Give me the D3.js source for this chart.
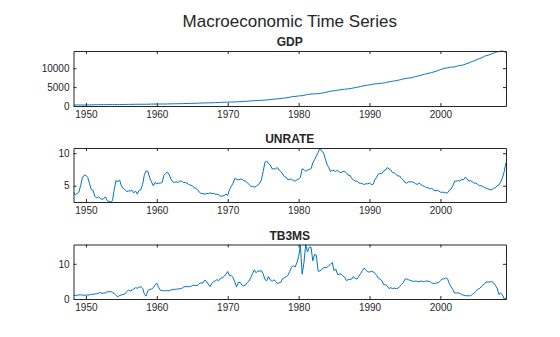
<!DOCTYPE html>
<html><head><meta charset="utf-8">
<script src="https://cdn.jsdelivr.net/npm/d3@7/dist/d3.min.js"></script>
<style>
html,body{margin:0;padding:0;background:#fff;}
svg{display:block;}
text{font-family:"Liberation Sans",Arial,Helvetica,sans-serif;}
</style></head>
<body>
<svg id="chart" width="560" height="337"></svg>
<script>
// Quarterly observations, 1948 Q1 .. 2009 Q1 (quarter-end dates)
const startYear = 1948;
const xTicks = [1950, 1960, 1970, 1980, 1990, 2000];

const gdp = [
261,267,274,275, 270,266,268,266, 276,285,304,314, 330,338,345,349,
353,354,360,373, 379,382,381,376, 377,378,382,390, 402,410,418,425,
428,434,440,448, 458,460,467,463, 456,460,473,487, 498,512,512,517,
533,530,533,527, 532,543,555,570, 583,592,599,603, 613,622,636,647,
663,672,685,691, 710,722,740,763, 787,796,811,826, 833,840,858,873,
898,921,937,952, 978,996,1013,1020, 1030,1044,1063,1066, 1113,1132,1150,1166,
1206,1234,1258,1297, 1340,1371,1394,1433, 1452,1480,1507,1538, 1556,1588,1643,1688,
1780,1810,1840,1875, 1955,2010,2055,2105, 2150,2275,2330,2420, 2480,2530,2600,2645,
2720,2710,2800,2930, 3050,3100,3190,3175, 3190,3230,3270,3330, 3380,3480,3580,3700,
3810,3910,3970,4030, 4110,4180,4260,4320, 4390,4430,4490,4530, 4610,4690,4780,4870,
4950,5050,5150,5250, 5360,5450,5520,5590, 5680,5790,5840,5890, 5910,5970,6030,6060,
6190,6300,6380,6490, 6550,6620,6700,6800, 6910,7030,7140,7260, 7320,7380,7450,7510,
7650,7790,7890,8020, 8130,8280,8400,8510, 8630,8730,8840,8980, 9100,9250,9410,9650,
9750,9940,10010,10100, 10190,10280,10320,10350, 10500,10600,10700,10770, 10900,11050,11250,11370,
11580,11780,11950,12140, 12380,12520,12730,12900, 13180,13350,13430,13620, 13800,13990,14170,14330,
14370,14500,14550,14350, 14180
];

const unrate = [
4.0,3.6,3.8,4.0, 5.0,6.2,6.6,6.6, 6.3,5.4,4.4,4.3, 3.4,3.1,3.3,3.1,
2.9,3.0,3.3,2.7, 2.6,2.5,2.7,4.5, 5.8,5.6,5.9,5.0, 4.6,4.4,4.1,4.2,
4.2,4.3,3.9,4.2, 3.7,4.3,4.4,5.2, 6.7,7.3,7.2,6.2, 5.6,5.0,5.5,5.3,
5.4,5.4,5.5,6.6, 6.9,7.1,6.7,6.0, 5.6,5.5,5.6,5.5, 5.7,5.7,5.5,5.5,
5.4,5.2,5.1,5.0, 4.7,4.6,4.4,4.0, 3.8,3.8,3.7,3.8, 3.8,3.9,3.8,3.8,
3.7,3.7,3.6,3.4, 3.4,3.5,3.7,3.5, 4.4,4.9,5.4,6.1, 6.0,5.9,6.0,6.0,
5.8,5.7,5.5,5.2, 4.9,4.9,4.8,4.9, 5.1,5.4,5.9,7.2, 8.6,8.8,8.4,8.2,
7.6,7.6,7.6,7.8, 7.4,7.2,6.8,6.4, 6.3,5.9,6.0,6.0, 5.8,5.7,5.9,6.0,
6.3,7.6,7.5,7.2, 7.4,7.5,7.6,8.5, 9.0,9.6,10.1,10.8, 10.3,10.1,9.2,8.3,
7.8,7.2,7.4,7.3, 7.2,7.4,7.1,7.0, 7.2,7.2,7.0,6.6, 6.6,6.1,5.9,5.7,
5.7,5.4,5.4,5.3, 5.2,5.3,5.3,5.4, 5.2,5.2,5.9,6.3, 6.8,6.9,6.9,7.3,
7.4,7.8,7.6,7.4, 7.0,7.0,6.7,6.5, 6.5,6.1,5.9,5.5, 5.4,5.6,5.6,5.6,
5.5,5.3,5.2,5.4, 5.2,5.0,4.9,4.7, 4.7,4.5,4.6,4.4, 4.2,4.3,4.2,4.0,
4.0,4.0,3.9,3.9, 4.3,4.5,5.0,5.7, 5.7,5.8,5.7,6.0, 5.9,6.3,6.1,5.7,
5.8,5.6,5.4,5.4, 5.2,5.0,5.0,4.9, 4.7,4.6,4.5,4.4, 4.4,4.6,4.7,5.0,
5.1,5.6,6.2,7.2, 8.6
];

const tb3ms = [
1.00,1.00,1.09,1.16, 1.16,1.16,1.06,1.10, 1.12,1.16,1.30,1.36, 1.42,1.48,1.64,1.86,
1.59,1.70,1.71,2.09, 2.01,2.17,1.79,1.60, 1.03,0.64,1.01,1.14, 1.28,1.40,2.09,2.54,
2.25,2.49,2.84,3.21, 3.08,3.29,3.53,3.04, 1.35,0.83,2.44,2.77, 2.80,3.20,4.04,4.49,
3.31,2.46,2.48,2.27, 2.42,2.33,2.33,2.58, 2.72,2.73,2.78,2.86, 2.90,2.99,3.38,3.52,
3.54,3.48,3.53,3.84, 3.93,3.80,3.91,4.38, 4.60,4.54,5.36,5.01, 4.26,3.53,4.42,4.96,
5.14,5.52,5.22,5.92, 6.02,6.44,7.08,7.82, 6.63,6.68,6.12,4.87, 3.38,4.75,4.69,4.01,
3.72,3.91,4.66,5.07, 6.09,7.19,8.29,7.45, 7.96,7.90,8.06,7.18, 5.54,5.19,6.38,5.44,
5.00,5.41,5.08,4.35, 4.60,4.75,5.81,6.07, 6.29,6.73,7.85,9.08, 9.46,9.06,10.26,12.04,
15.20,7.07,10.27,15.49, 13.36,14.73,14.70,10.85, 12.68,12.47,7.92,7.94, 8.35,8.79,9.00,8.96,
9.52,9.87,10.37,8.06, 8.52,6.95,7.10,7.07, 6.56,6.21,5.21,5.53, 5.59,5.69,6.40,5.77,
5.70,6.46,7.24,8.07, 8.82,8.15,7.75,7.64, 7.90,7.73,7.36,6.74, 5.91,5.57,5.22,4.07,
4.04,3.66,2.97,3.22, 2.95,3.10,2.95,3.06, 3.48,4.14,4.62,5.60, 5.73,5.47,5.28,5.14,
4.96,5.09,5.01,4.91, 5.14,4.93,4.95,5.16, 5.03,4.99,4.61,4.39, 4.44,4.57,4.68,5.20,
5.69,5.69,6.00,5.77, 4.42,3.49,2.64,1.69, 1.73,1.70,1.63,1.21, 1.13,0.92,0.94,0.90,
0.94,1.27,1.65,2.19, 2.74,2.97,3.42,3.89, 4.51,4.80,4.81,4.85, 4.94,4.61,3.89,3.07,
1.26,1.73,1.13,0.03, 0.21
];

const panelTitles = ["GDP", "UNRATE", "TB3MS"];
const yTicks = [[0, 5000, 10000], [5, 10], [0, 10]];
const mainTitle = "Macroeconomic Time Series";

const series = [gdp, unrate, tb3ms];
const dates = gdp.map((d, i) => startYear + (i + 1) / 4);

const svg = d3.select("#chart");
const left = 73.5, right = 506;
const tops = [51, 148, 244.5];
const bottoms = [106, 202, 299];
const axisColor = "#262626";
const lineColor = "#0072BD";

const x = d3.scaleLinear().domain([dates[0], dates[dates.length - 1]]).range([left, right]);

svg.append("text")
  .attr("x", (left + right) / 2).attr("y", 27)
  .attr("text-anchor", "middle")
  .attr("font-size", 17).attr("fill", "#262626")
  .text(mainTitle);

series.forEach((vals, k) => {
  const top = tops[k], bot = bottoms[k];
  let ymin = d3.min(vals), ymax = d3.max(vals);
  if (k !== 1) ymin = 0;
  const y = d3.scaleLinear().domain([ymin, ymax]).range([bot, top]);
  const g = svg.append("g");

  const clipId = "clip" + k;
  svg.append("clipPath").attr("id", clipId)
    .append("rect").attr("x", left).attr("y", top - 1).attr("width", right - left).attr("height", bot - top + 2);
  g.append("path")
    .datum(vals.map((v, i) => [dates[i], v]))
    .attr("clip-path", `url(#${clipId})`)
    .attr("fill", "none").attr("stroke", lineColor).attr("stroke-width", 1)
    .attr("stroke-linejoin", "round")
    .attr("d", d3.line().x(d => x(d[0])).y(d => y(d[1])));

  const tl = 3;
  const bottomAxis = d3.axisBottom(x).tickValues(xTicks).tickFormat(d3.format("d")).tickSizeInner(-tl).tickSizeOuter(0).tickPadding(5);
  const topAxis = d3.axisTop(x).tickValues(xTicks).tickFormat("").tickSizeInner(-tl).tickSizeOuter(0);
  const leftAxis = d3.axisLeft(y).tickValues(yTicks[k]).tickFormat(d3.format("d")).tickSizeInner(-tl).tickSizeOuter(0).tickPadding(4);
  const rightAxis = d3.axisRight(y).tickValues(yTicks[k]).tickFormat("").tickSizeInner(-tl).tickSizeOuter(0);

  const ab = g.append("g").attr("transform", `translate(0,${bot})`).call(bottomAxis);
  const at = g.append("g").attr("transform", `translate(0,${top})`).call(topAxis);
  const al = g.append("g").attr("transform", `translate(${left},0)`).call(leftAxis);
  const ar = g.append("g").attr("transform", `translate(${right},0)`).call(rightAxis);
  [ab, at, al, ar].forEach(a => {
    a.select(".domain").attr("stroke", axisColor);
    a.selectAll(".tick line").attr("stroke", axisColor);
    a.selectAll(".tick text").attr("fill", axisColor).attr("font-size", 10)
      .attr("font-family", '"Liberation Sans",Arial,Helvetica,sans-serif');
  });
  ab.selectAll(".tick text").attr("dy", "0.71em");

  svg.append("text")
    .attr("x", (left + right) / 2).attr("y", top - 5)
    .attr("text-anchor", "middle")
    .attr("font-size", 12).attr("font-weight", "bold").attr("fill", "#262626")
    .text(panelTitles[k]);
});
</script>
</body></html>
